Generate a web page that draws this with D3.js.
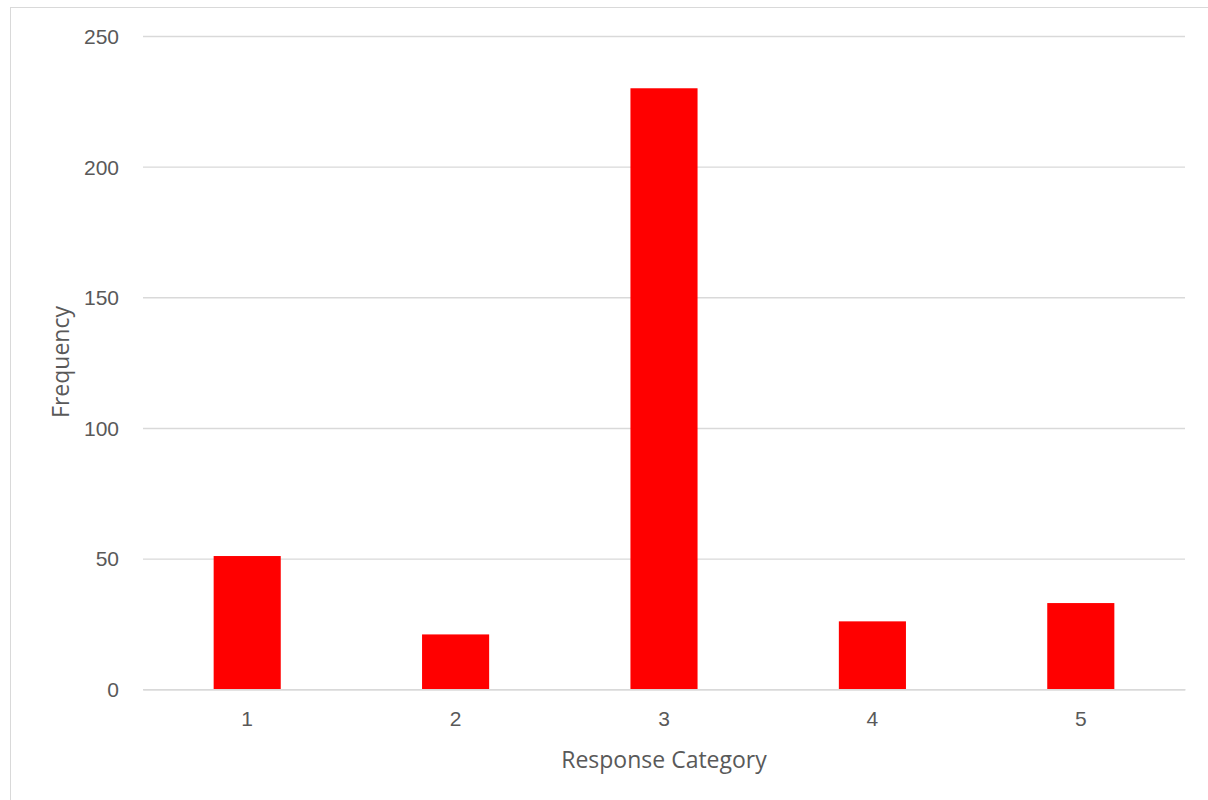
<!DOCTYPE html>
<html>
<head>
<meta charset="utf-8">
<script src="https://cdn.jsdelivr.net/npm/d3@7"></script>
<style>
  html, body { margin: 0; padding: 0; background: #fff; }
  svg { display: block; font-family: "Open Sans", "Noto Sans", sans-serif; }
</style>
</head>
<body>
<svg id="chart" width="1208" height="800"></svg>
<script>
const categories = ["1", "2", "3", "4", "5"];
const frequencies = [51, 21, 230, 26, 33];
const yTicks = [0, 50, 100, 150, 200, 250];
const xTitle = "Response Category";
const yTitle = "Frequency";

const svg = d3.select("#chart");
const W = 1208, H = 800;
const plot = { left: 143, right: 1185, top: 36, bottom: 689.3 };

// outer frame
svg.append("rect")
  .attr("x", 10.5).attr("y", 7.5)
  .attr("width", W + 20).attr("height", H + 20)
  .attr("fill", "#fff").attr("stroke", "#d9d9d9").attr("stroke-width", 1);

const x = d3.scaleBand()
  .domain(categories)
  .range([plot.left, plot.right])
  .paddingInner(0.678)
  .paddingOuter(0.339);

const y = d3.scaleLinear()
  .domain([0, 250])
  .range([plot.bottom, plot.top]);

// gridlines
const yAxis = d3.axisLeft(y)
  .tickValues(yTicks)
  .tickSize(-(plot.right - plot.left))
  .tickPadding(24)
  .tickFormat(d3.format("d"));

const gy = svg.append("g")
  .attr("transform", `translate(${plot.left},0)`)
  .call(yAxis);
gy.select(".domain").remove();
gy.selectAll(".tick line").attr("stroke", "#d9d9d9").attr("stroke-width", 1.4);
gy.selectAll(".tick text")
  .attr("fill", "#595959")
  .attr("font-size", "21px")
  .attr("dy", "0.35em");

// bars
svg.append("g").selectAll("rect")
  .data(frequencies)
  .join("rect")
  .attr("x", (d, i) => x(categories[i]))
  .attr("width", x.bandwidth())
  .attr("y", d => y(d))
  .attr("height", d => y(0) - y(d))
  .attr("fill", "#ff0000");

// x axis
const xAxis = d3.axisBottom(x).tickSize(0).tickPadding(22);
const gx = svg.append("g")
  .attr("transform", `translate(0,${plot.bottom})`)
  .call(xAxis);
gx.select(".domain").attr("stroke", "#d9d9d9").attr("stroke-width", 1.4);
gx.selectAll(".tick text")
  .attr("fill", "#595959")
  .attr("font-size", "21px");

// axis titles
svg.append("text")
  .attr("x", (plot.left + plot.right) / 2)
  .attr("y", 768)
  .attr("text-anchor", "middle")
  .attr("fill", "#595959")
  .attr("font-size", "23px")
  .text(xTitle);

svg.append("text")
  .attr("transform", `translate(69,${362}) rotate(-90)`)
  .attr("text-anchor", "middle")
  .attr("fill", "#595959")
  .attr("font-size", "23px")
  .text(yTitle);
</script>
</body>
</html>
